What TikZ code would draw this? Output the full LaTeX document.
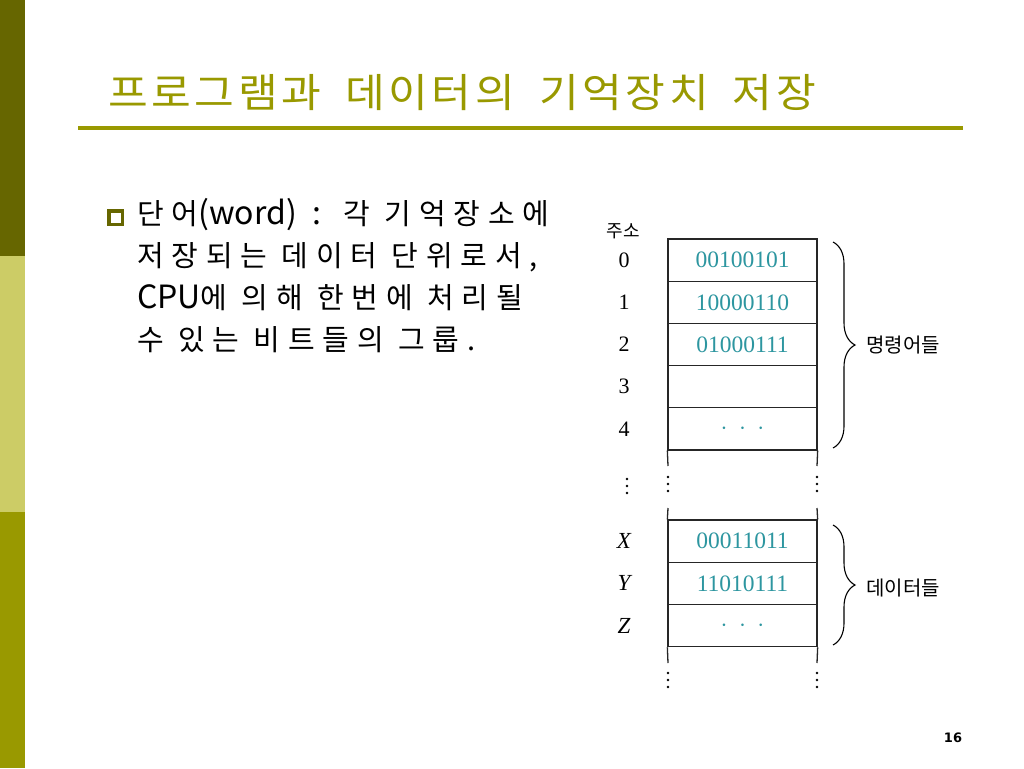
\documentclass[tikz,border=0pt]{standalone}
\usepackage{fontspec}
\usetikzlibrary{decorations.pathreplacing}
\newfontfamily\kr{Noto Sans CJK KR}
\newfontfamily\krs[LetterSpace=27]{Noto Sans CJK KR}
\newfontfamily\krt[LetterSpace=9,FakeStretch=1.08]{Noto Sans CJK KR}
\newfontfamily\tms{Liberation Serif}
\newfontfamily\pgf{DejaVu Sans}
\newcommand\mytitlefont{\krt\fontsize{40}{44}\selectfont\spaceskip=24pt\relax}
\newcommand\lat[1]{{\kr\fontsize{32}{42}\selectfont #1}}
\definecolor{olivedark}{RGB}{102,102,0}
\definecolor{olivelight}{RGB}{204,204,102}
\definecolor{olivemid}{RGB}{153,153,0}
\definecolor{teal2}{RGB}{45,150,160}
\tikzset{
  cell/.style={draw=black!85, line width=1.3pt, minimum width=149pt, minimum height=42.2pt, inner sep=0pt, font=\tms\fontsize{23.5}{25}\selectfont, text=teal2},
  addr/.style={font=\tms\fontsize{22}{26}\selectfont, inner sep=0pt},
  bline/.style={anchor=base west, inner sep=0pt, font=\krs\fontsize{29}{42}\selectfont},
  side/.style={draw=black!85, line width=1.3pt},
  vdot/.style={fill=black, circle, inner sep=0pt, minimum size=2.6pt},
  brace1/.style={decorate, decoration={brace, amplitude=22pt}, line width=1.1pt},
  blabel/.style={anchor=west, inner sep=0pt, font=\kr\fontsize{20}{24}\selectfont}
}
\begin{document}
\begin{tikzpicture}[x=1pt,y=-1pt]
\useasboundingbox (0,0) rectangle (1024,768);
\fill[white] (0,0) rectangle (1024,768);
% left bar
\fill[olivedark] (0,0) rectangle (25,256);
\fill[olivelight] (0,256) rectangle (25,512);
\fill[olivemid] (0,512) rectangle (25,768);
% title
\node[anchor=base west, inner sep=0pt, text=olivemid, font=\mytitlefont] (title) at (108,107) {프로그램과 데이터의 기억장치 저장};
\draw[olivemid, line width=4pt] (78,128) -- (963,128);
% bullet
\node[draw=olivedark, line width=3.5pt, minimum size=13.5pt, inner sep=0pt] (bul) at (115.5,217.5) {};
\node[bline] (l1) at (137,224) {단어\lat{(word)\kern16pt:}\kern22pt 각 기억장소에};
\node[bline] (l2) at (137,266) {저장되는 데이터 단위로서,};
\node[bline] (l3) at (137,308) {\lat{CPU}에 의해 한번에 처리될};
\node[bline] (l4) at (137,350) {수 있는 비트들의 그룹.};
% memory table
\node[font=\kr\fontsize{18}{20}\selectfont, inner sep=0pt] (jusO) at (623,231) {주소};
\node[cell] (c0) at (742.5,260.1) {00100101};
\node[cell] (c1) at (742.5,302.3) {10000110};
\node[cell] (c2) at (742.5,344.5) {01000111};
\node[cell] (c3) at (742.5,386.7) {};
\node[cell] (c4) at (742.5,428.9) {$\cdot\ \cdot\ \cdot$};
\node[addr] (a0) at (624,260.1) {0};
\node[addr] (a1) at (624,302.3) {1};
\node[addr] (a2) at (624,344.5) {2};
\node[addr] (a3) at (624,386.7) {3};
\node[addr] (a4) at (624,428.9) {4};
\coordinate (s1a) at (668,466); \coordinate (s1b) at (817,466);
\draw[side] (c4.south west) -- (s1a);
\draw[side] (c4.south east) -- (s1b);
\foreach \yy in {477,484,491}{
  \node[vdot] at (668,\yy) {};
  \node[vdot] at (817,\yy) {};
  \node[vdot] at (627,\yy+2) {};
}
\node[cell] (cx) at (742.5,541.1) {00011011};
\node[cell] (cy) at (742.5,583.3) {11010111};
\node[cell] (cz) at (742.5,625.5) {$\cdot\ \cdot\ \cdot$};
\node[addr, font=\tms\itshape\fontsize{23}{26}\selectfont] (ax) at (624,541.1) {X};
\node[addr, font=\tms\itshape\fontsize{23}{26}\selectfont] (ay) at (624,583.3) {Y};
\node[addr, font=\tms\itshape\fontsize{23}{26}\selectfont] (az) at (624,625.5) {Z};
\coordinate (s2a) at (668,508); \coordinate (s2b) at (817,508);
\draw[side] (s2a) -- (cx.north west);
\draw[side] (s2b) -- (cx.north east);
\coordinate (s3a) at (668,663); \coordinate (s3b) at (817,663);
\draw[side] (cz.south west) -- (s3a);
\draw[side] (cz.south east) -- (s3b);
\foreach \yy in {673,680,687}{
  \node[vdot] at (668,\yy) {};
  \node[vdot] at (817,\yy) {};
}
% braces
\coordinate (b1t) at (833,242); \coordinate (b1b) at (833,448);
\draw[brace1] (b1t) -- (b1b);
\node[blabel] (lab1) at (866,345) {명령어들};
\coordinate (b2t) at (833,525); \coordinate (b2b) at (833,645);
\draw[brace1] (b2t) -- (b2b);
\node[blabel] (lab2) at (866,588) {데이터들};
% page number
\node[font=\pgf\bfseries\fontsize{13}{15}\selectfont, inner sep=0pt] (pg) at (953,738) {16};
\end{tikzpicture}
\end{document}
